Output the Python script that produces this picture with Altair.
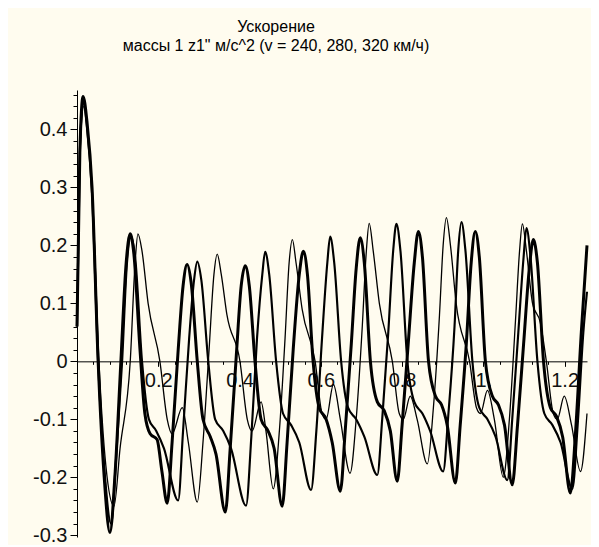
import altair as alt
import pandas as pd

title_lines = ["Ускорение", "массы 1 z1\" м/с^2 (v = 240, 280, 320 км/ч)"]
speeds = ["240", "280", "320"]
stroke_widths = [1.3, 3.0, 4.0]

# v = 240 km/h (thin line)
t_240 = [0.000, 0.007, 0.017, 0.027, 0.039, 0.054, 0.071, 0.091, 0.106, 0.131,
         0.143, 0.150, 0.160, 0.175, 0.204, 0.222, 0.234, 0.259, 0.274, 0.296,
         0.310, 0.325, 0.337, 0.345, 0.355, 0.369, 0.401, 0.419, 0.431, 0.453,
         0.465, 0.483, 0.498, 0.512, 0.522, 0.530, 0.539, 0.554, 0.586, 0.603,
         0.613, 0.631, 0.648, 0.672, 0.687, 0.702, 0.712, 0.719, 0.729, 0.744,
         0.776, 0.793, 0.803, 0.820, 0.837, 0.862, 0.877, 0.892, 0.901, 0.909,
         0.919, 0.933, 0.966, 0.983, 0.993, 1.010, 1.027, 1.049, 1.064, 1.079,
         1.089, 1.096, 1.106, 1.121, 1.140, 1.155, 1.172, 1.182, 1.199, 1.217,
         1.239, 1.255]
v_240 = [0.06, 0.35, 0.44, 0.39, 0.27, 0.00, -0.18, -0.25, -0.15, 0.00,
         0.17, 0.22, 0.19, 0.10, 0.00, -0.10, -0.125, -0.08, -0.14, -0.243,
         -0.14, 0.02, 0.15, 0.185, 0.15, 0.08, 0.00, -0.10, -0.12, -0.07,
         -0.12, -0.22, -0.12, 0.04, 0.17, 0.21, 0.17, 0.09, 0.00, -0.09,
         -0.10, -0.04, -0.10, -0.193, -0.10, 0.06, 0.19, 0.238, 0.19, 0.10,
         0.00, -0.09, -0.10, -0.06, -0.10, -0.177, -0.08, 0.08, 0.20, 0.248,
         0.20, 0.10, 0.00, -0.08, -0.09, -0.05, -0.10, -0.20, -0.10, 0.07,
         0.19, 0.237, 0.19, 0.10, 0.067, 0.00, -0.09, -0.10, -0.06, -0.11,
         -0.19, -0.09]

# v = 280 km/h (medium line)
t_280 = [0.000, 0.007, 0.015, 0.025, 0.037, 0.052, 0.069, 0.084, 0.096, 0.111,
         0.123, 0.133, 0.143, 0.160, 0.177, 0.195, 0.214, 0.249, 0.261, 0.276,
         0.288, 0.296, 0.306, 0.323, 0.340, 0.360, 0.379, 0.416, 0.429, 0.443,
         0.456, 0.463, 0.473, 0.490, 0.507, 0.527, 0.547, 0.576, 0.589, 0.603,
         0.616, 0.623, 0.633, 0.650, 0.667, 0.687, 0.707, 0.739, 0.751, 0.766,
         0.778, 0.786, 0.796, 0.813, 0.830, 0.850, 0.869, 0.901, 0.914, 0.929,
         0.938, 0.946, 0.956, 0.973, 0.990, 1.010, 1.030, 1.059, 1.071, 1.086,
         1.099, 1.106, 1.116, 1.133, 1.150, 1.170, 1.190, 1.219, 1.232, 1.246,
         1.255]
v_280 = [0.06, 0.36, 0.45, 0.40, 0.29, 0.00, -0.20, -0.28, -0.17, 0.00,
         0.17, 0.215, 0.18, 0.00, -0.10, -0.12, -0.15, -0.24, -0.12, 0.04,
         0.14, 0.172, 0.14, 0.00, -0.10, -0.12, -0.15, -0.249, -0.13, 0.04,
         0.15, 0.189, 0.15, 0.00, -0.09, -0.11, -0.14, -0.222, -0.12, 0.04,
         0.17, 0.215, 0.17, 0.00, -0.08, -0.10, -0.13, -0.196, -0.10, 0.05,
         0.19, 0.237, 0.19, 0.00, -0.07, -0.09, -0.12, -0.19, -0.09, 0.06,
         0.19, 0.24, 0.19, 0.00, -0.08, -0.10, -0.13, -0.205, -0.10, 0.05,
         0.18, 0.23, 0.18, 0.00, -0.09, -0.11, -0.14, -0.22, -0.11, 0.05,
         0.12]

# v = 320 km/h (thick line)
t_320 = [0.000, 0.007, 0.015, 0.025, 0.037, 0.052, 0.067, 0.081, 0.094, 0.108,
         0.121, 0.131, 0.140, 0.155, 0.167, 0.180, 0.197, 0.209, 0.222, 0.234,
         0.249, 0.261, 0.271, 0.281, 0.296, 0.310, 0.328, 0.342, 0.365, 0.377,
         0.392, 0.404, 0.414, 0.424, 0.438, 0.453, 0.470, 0.485, 0.505, 0.517,
         0.532, 0.547, 0.557, 0.567, 0.581, 0.596, 0.613, 0.628, 0.648, 0.660,
         0.675, 0.687, 0.697, 0.707, 0.722, 0.739, 0.756, 0.771, 0.788, 0.800,
         0.815, 0.830, 0.840, 0.850, 0.865, 0.882, 0.897, 0.911, 0.931, 0.943,
         0.958, 0.970, 0.980, 0.990, 1.005, 1.022, 1.037, 1.052, 1.071, 1.084,
         1.099, 1.113, 1.123, 1.133, 1.148, 1.165, 1.180, 1.195, 1.214, 1.227,
         1.241, 1.255]
v_320 = [0.06, 0.36, 0.457, 0.41, 0.30, 0.00, -0.20, -0.295, -0.19, 0.00,
         0.17, 0.22, 0.185, 0.02, -0.09, -0.125, -0.135, -0.19, -0.245, -0.14,
         0.02, 0.13, 0.167, 0.135, 0.00, -0.10, -0.13, -0.16, -0.26, -0.15,
         0.01, 0.13, 0.165, 0.13, 0.00, -0.10, -0.12, -0.15, -0.25, -0.14,
         0.02, 0.15, 0.19, 0.15, 0.00, -0.08, -0.10, -0.14, -0.224, -0.12,
         0.03, 0.16, 0.213, 0.17, 0.00, -0.07, -0.085, -0.12, -0.207, -0.11,
         0.03, 0.17, 0.224, 0.18, 0.00, -0.06, -0.075, -0.11, -0.21, -0.11,
         0.03, 0.17, 0.224, 0.18, 0.00, -0.06, -0.075, -0.11, -0.213, -0.11,
         0.03, 0.16, 0.21, 0.17, 0.00, -0.08, -0.095, -0.13, -0.227, -0.12,
         0.05, 0.20]

x_major = [0.2, 0.4, 0.6, 0.8, 1.0, 1.2]
x_minor = [0.04, 0.08, 0.12, 0.16, 0.24, 0.28, 0.32, 0.36, 0.44, 0.48, 0.52, 0.56,
           0.64, 0.68, 0.72, 0.76, 0.84, 0.88, 0.92, 0.96, 1.04, 1.08, 1.12, 1.16,
           1.24]
y_major = [-0.3, -0.2, -0.1, 0.0, 0.1, 0.2, 0.3, 0.4]
y_minor = [-0.28, -0.26, -0.24, -0.22, -0.18, -0.16, -0.14, -0.12, -0.08, -0.06,
           -0.04, -0.02, 0.02, 0.04, 0.06, 0.08, 0.12, 0.14, 0.16, 0.18, 0.22,
           0.24, 0.26, 0.28, 0.32, 0.34, 0.36, 0.38, 0.42, 0.44, 0.46]

x_domain = [0.0, 1.255]
y_domain = [-0.303, 0.468]

frames = []
for sp, tt, vv in [("240", t_240, v_240), ("280", t_280, v_280), ("320", t_320, v_320)]:
    frames.append(pd.DataFrame({"t": tt, "v": vv, "speed": sp}))
df = pd.concat(frames, ignore_index=True)

W, H = 510, 447
zero_from_bottom = H * (0 - y_domain[0]) / (y_domain[1] - y_domain[0])

FONT = "Liberation Sans, Arial, sans-serif"
BG = "#FFFCEF"

xscale = alt.Scale(domain=x_domain, nice=False, zero=False)
yscale = alt.Scale(domain=y_domain, nice=False, zero=False)

ylabel = "datum.value == 0 ? '0' : (datum.value < 0 ? '-' + format(-datum.value, '.1f') : format(datum.value, '.1f'))"
xlabel = "datum.value == 1 ? '1.' : format(datum.value, '.1f')"

lines = alt.Chart(df).mark_line(interpolate="monotone", color="black").encode(
    x=alt.X("t:Q", scale=xscale, title=None,
            axis=alt.Axis(orient="bottom", offset=-zero_from_bottom, values=x_major,
                          labelExpr=xlabel, tickSize=5, labelPadding=4, grid=False,
                          domainColor="black", tickColor="black", labelColor="#111111",
                          labelFont=FONT, labelFontSize=20, labelFlush=False)),
    y=alt.Y("v:Q", scale=yscale, title=None,
            axis=alt.Axis(orient="left", values=y_major, labelExpr=ylabel,
                          tickSize=7, labelPadding=3, grid=False,
                          domainColor="black", tickColor="black", labelColor="#111111",
                          labelFont=FONT, labelFontSize=20, labelFlush=False)),
    strokeWidth=alt.StrokeWidth("speed:N", scale=alt.Scale(domain=speeds, range=stroke_widths),
                                legend=None),
    detail="speed:N",
)

minor = alt.Chart(df).mark_line(opacity=0).encode(
    x=alt.X("t:Q", scale=xscale, title=None,
            axis=alt.Axis(orient="bottom", offset=-zero_from_bottom, values=x_minor,
                          labels=False, domain=False, tickSize=3, grid=False,
                          tickColor="black")),
    y=alt.Y("v:Q", scale=yscale, title=None,
            axis=alt.Axis(orient="left", values=y_minor, labels=False, domain=False,
                          tickSize=4, grid=False, tickColor="black")),
    detail="speed:N",
)

chart = alt.layer(minor, lines).resolve_axis(x="independent", y="independent").properties(
    width=W, height=H,
    autosize=alt.AutoSizeParams(type="none"),
    padding={"left": 69, "top": 82, "right": 4, "bottom": 8},
    background=BG,
    title=alt.TitleParams(text=title_lines, anchor="middle", dx=-56, offset=36,
                          font=FONT, fontSize=16, fontWeight="normal", color="black",
                          lineHeight=19),
).configure_view(stroke=None)

chart.save("out.html", embed_options={"renderer": "svg", "actions": False})
